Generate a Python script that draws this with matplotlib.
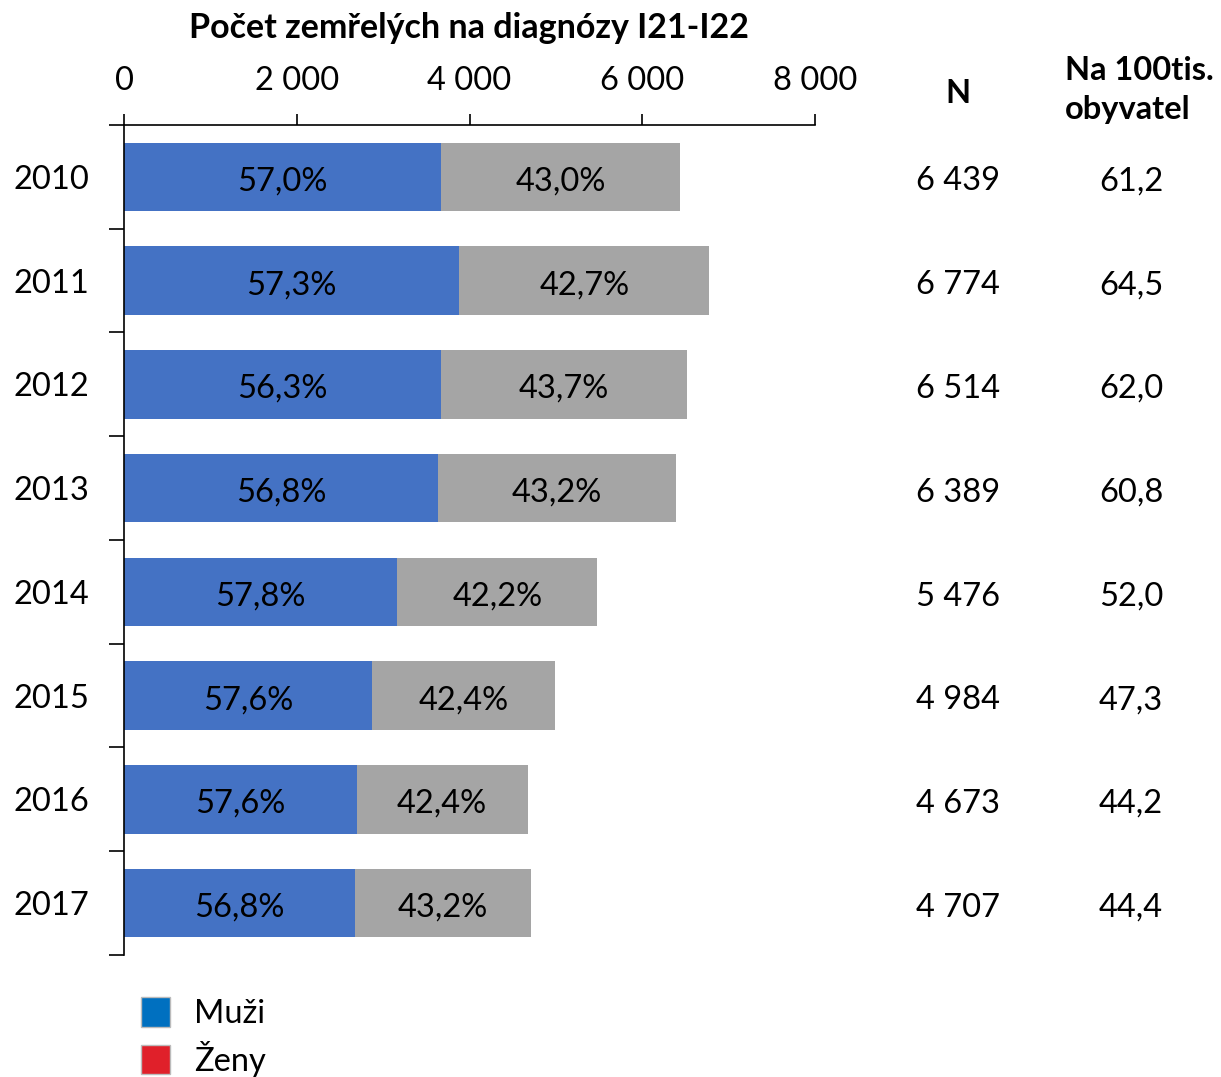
import numpy as np
import matplotlib.pyplot as plt
from matplotlib.patches import Patch

plt.rcParams['font.family'] = ['Lato', 'DejaVu Sans']

# data
years = ['2010', '2011', '2012', '2013', '2014', '2015', '2016', '2017']
n_total = [6439, 6774, 6514, 6389, 5476, 4984, 4673, 4707]
per_100k = [61.2, 64.5, 62.0, 60.8, 52.0, 47.3, 44.2, 44.4]
men_pct = [57.0, 57.3, 56.3, 56.8, 57.8, 57.6, 57.6, 56.8]
women_pct = [43.0, 42.7, 43.7, 43.2, 42.2, 42.4, 42.4, 43.2]
x_ticks = [0, 2000, 4000, 6000, 8000]

blue = '#4472C4'
gray = '#A5A5A5'


def fmt_thousands(v):
    return '{:,}'.format(int(v)).replace(',', ' ')


def fmt_dec(v):
    return '{:.1f}'.format(v).replace('.', ',')


men = np.array(n_total) * np.array(men_pct) / 100
women = np.array(n_total) * np.array(women_pct) / 100
y = np.arange(len(years))

fig = plt.figure(figsize=(12.21, 10.77), dpi=100)
ax = fig.add_axes([0.1016, 0.1133, 0.566, 0.7707])

ax.barh(y, men, height=0.66, color=blue)
ax.barh(y, women, left=men, height=0.66, color=gray)

fs = 23.5
dy = 0.045  # nudge labels down a little
for i in range(len(years)):
    ax.text(men[i] / 2, y[i] + dy, fmt_dec(men_pct[i]) + '%', ha='center', va='center', fontsize=fs)
    ax.text(men[i] + women[i] / 2, y[i] + dy, fmt_dec(women_pct[i]) + '%', ha='center', va='center', fontsize=fs)
    ax.text(1.207, y[i] + dy, fmt_thousands(n_total[i]), transform=ax.get_yaxis_transform(),
            ha='center', va='center', fontsize=fs, clip_on=False)
    ax.text(1.457, y[i] + dy, fmt_dec(per_100k[i]), transform=ax.get_yaxis_transform(),
            ha='center', va='center', fontsize=fs, clip_on=False)

# titles and column headers
fig.text(0.384, 0.974, 'Počet zemřelých na diagnózy I21-I22', ha='center', va='center',
         fontsize=24.5, fontweight='bold')
fig.text(0.7846, 0.9136, 'N', ha='center', va='center', fontsize=fs, fontweight='bold')
fig.text(0.8722, 0.9164, 'Na 100tis.\nobyvatel', ha='left', va='center',
         fontsize=fs, fontweight='bold', linespacing=1.45)

ax.set_xlim(0, 8000)
ax.set_ylim(len(years) - 0.5, -0.5)

ax.xaxis.tick_top()
ax.set_xticks(x_ticks)
ax.set_xticklabels([fmt_thousands(t) for t in x_ticks], fontsize=fs)
ax.tick_params(axis='x', direction='out', length=8, width=1.2, pad=13)

ax.set_yticks(y)
ax.set_yticklabels(years, fontsize=fs)
ax.set_yticks(np.arange(-0.5, len(years)), minor=True)
ax.tick_params(axis='y', which='major', length=0, pad=25)
ax.tick_params(axis='y', which='minor', direction='out', length=11, width=1.2)

for s in ['right', 'bottom']:
    ax.spines[s].set_visible(False)
ax.spines['top'].set_linewidth(1.2)
ax.spines['left'].set_linewidth(1.2)

# legend uses its own colours, as in the original
handles = [Patch(facecolor='#0070C0', edgecolor='#BBBBBB', label='Muži'),
           Patch(facecolor='#E0202A', edgecolor='#BBBBBB', label='Ženy')]
fig.legend(handles=handles, loc='upper left', bbox_to_anchor=(0.1025, 0.089), frameon=False,
           fontsize=fs, handlelength=0.86, handleheight=1.0, handletextpad=0.75, labelspacing=0.35,
           borderpad=0)

fig.savefig('out.png', dpi=100)
